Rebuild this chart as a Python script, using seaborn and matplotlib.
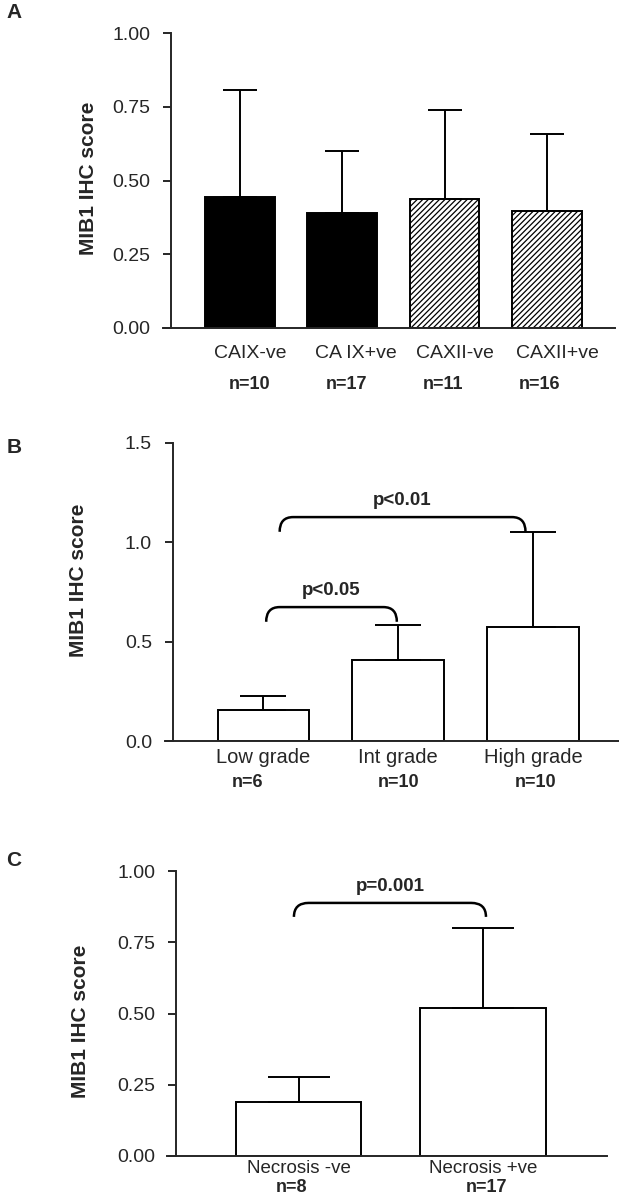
#%% import libraries
import numpy as np
import seaborn as sns
import matplotlib.pyplot as plt
from matplotlib.path import Path
from matplotlib.patches import PathPatch

#%% data
a_groups = ['CAIX-ve', 'CA IX+ve', 'CAXII-ve', 'CAXII+ve']
a_n = ['n=10', 'n=17', 'n=11', 'n=16']
a_mean = [0.444, 0.391, 0.436, 0.398]
a_err = [0.363, 0.210, 0.304, 0.260]

b_groups = ['Low grade', 'Int grade', 'High grade']
b_n = ['n=6', 'n=10', 'n=10']
b_mean = [0.158, 0.406, 0.574]
b_err = [0.069, 0.176, 0.478]

c_groups = ['Necrosis -ve', 'Necrosis +ve']
c_n = ['n=8', 'n=17']
c_mean = [0.190, 0.519]
c_err = [0.086, 0.282]

#%% style
sns.set_style('ticks')
plt.rcParams['font.family'] = ['Liberation Sans', 'DejaVu Sans']
plt.rcParams['hatch.linewidth'] = 0.9
LW = 1.4
W, H = 619, 1199

fig = plt.figure(figsize=(W / 100, H / 100), dpi=100)


def make_ax(l, r, t, b):
    return fig.add_axes([l / W, 1 - b / H, (r - l) / W, (b - t) / H])


def bars(ax, groups, mean, err, colors, capsize, xlim, spine_x, ylim, ticks, fmt):
    sns.barplot(x=groups, y=mean, hue=groups, palette=colors, legend=False,
                width=0.68, edgecolor='black', linewidth=LW, saturation=1, ax=ax)
    x = np.arange(len(groups))
    ax.errorbar(x, mean, yerr=[np.zeros(len(err)), err], fmt='none',
                ecolor='black', elinewidth=LW, capsize=capsize, capthick=LW, zorder=5)
    ax.set_xlim(*xlim)
    ax.set_ylim(*ylim)
    ax.set_yticks(ticks)
    ax.set_yticklabels([fmt.format(t) for t in ticks])
    ax.spines['left'].set_position(('data', spine_x))
    ax.spines['left'].set_bounds(ylim[0], ylim[1])
    ax.spines[['left', 'bottom']].set_linewidth(LW)
    sns.despine(ax=ax)
    ax.set_xticks([])
    ax.set_xlabel('')
    ax.set_ylabel('')
    ax.tick_params(axis='y', length=6, width=LW, pad=9, labelsize=14)
    ax.set_facecolor('none')


def labels(ax, groups, ns, y_lab, y_n, lab_off, n_off, size):
    tr = ax.get_xaxis_transform()
    for i, g in enumerate(groups):
        ax.text(i + lab_off[i], y_lab, g, transform=tr, ha='center', va='center',
                fontsize=size, clip_on=False)
        ax.text(i + n_off[i], y_n, ns[i], transform=tr, ha='center', va='center',
                fontsize=13, fontweight='bold', clip_on=False)


def bracket(ax, x0, x1, y_end, y_top, text, ty, dx):
    verts = [(x0, y_end), (x0, y_top), (x0 + dx, y_top),
             (x1 - dx, y_top), (x1, y_top), (x1, y_end)]
    codes = [Path.MOVETO, Path.CURVE3, Path.CURVE3, Path.LINETO, Path.CURVE3, Path.CURVE3]
    ax.add_patch(PathPatch(Path(verts, codes), fill=False, lw=1.8, color='black'))
    ax.text((x0 + x1) / 2, ty, text, ha='center', va='center',
            fontsize=13.5, fontweight='bold')


#%% panel A
ax = make_ax(163, 615, 33, 328)
bars(ax, a_groups, a_mean, a_err, ['black', 'black', 'white', 'white'], 12,
     (-0.752, 3.666), -0.674, (0, 1.0), [0, 0.25, 0.5, 0.75, 1.0], '{:.2f}')
for p in ax.patches[2:4]:
    p.set_hatch('//////')
labels(ax, a_groups, a_n, -0.085, -0.19, [0.1, 0.13, 0.1, 0.1],
       [0.09, 0.04, -0.015, -0.07], 14)

#%% panel B
ax = make_ax(165, 619, 443, 741)
bars(ax, b_groups, b_mean, b_err, ['white'] * 3, 16.5,
     (-0.731, 2.639), -0.672, (0, 1.5), [0, 0.5, 1.0, 1.5], '{:.1f}')
labels(ax, b_groups, b_n, -0.057, -0.138, [0, 0, 0], [-0.12, 0, 0.02], 14.5)
bracket(ax, 0.02, 0.99, 0.60, 0.674, 'p<0.05', 0.76, 0.1)
bracket(ax, 0.12, 1.945, 1.053, 1.127, 'p<0.01', 1.213, 0.1)

#%% panel C
ax = make_ax(167, 607, 871, 1156)
bars(ax, c_groups, c_mean, c_err, ['white'] * 2, 22,
     (-0.713, 1.672), -0.664, (0, 1.0), [0, 0.25, 0.5, 0.75, 1.0], '{:.2f}')
labels(ax, c_groups, c_n, -0.045, -0.11, [0, 0], [-0.04, 0.02], 13.5)
bracket(ax, -0.025, 1.016, 0.839, 0.888, 'p=0.001', 0.947, 0.08)

#%% panel letters and y labels
for letter, y in [('A', 12), ('B', 447), ('C', 860)]:
    fig.text(14 / W, 1 - y / H, letter, ha='center', va='center',
             fontsize=15, fontweight='bold')
for x, y in [(89, 178), (78, 580), (80, 1021)]:
    fig.text(x / W, 1 - y / H, 'MIB1 IHC score', rotation=90, ha='center',
             va='center', fontsize=15, fontweight='bold')

fig.savefig('out.png', dpi=100)
